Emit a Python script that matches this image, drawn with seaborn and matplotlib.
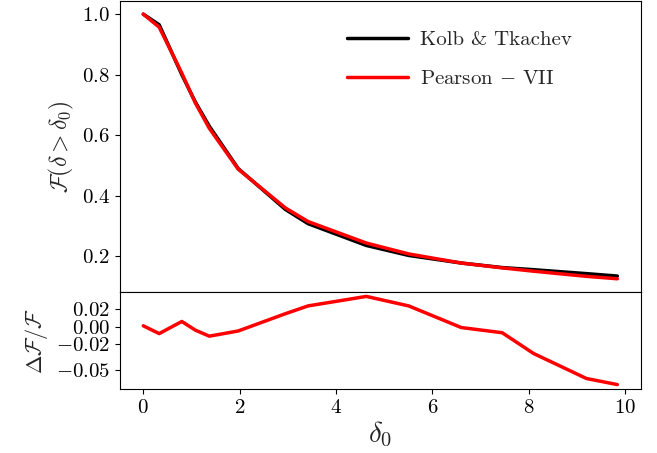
import numpy as np
import pandas as pd
import matplotlib
matplotlib.use("Agg")
import matplotlib.pyplot as plt
import seaborn as sns
from matplotlib.ticker import FuncFormatter, FixedLocator

# ---- data ----
delta0 = [0.0, 0.33, 0.80, 1.08, 1.37, 1.97, 2.95, 3.42, 4.63, 5.51, 6.60, 7.45, 8.10, 9.20, 9.84]
F_kolb = [1.0, 0.965, 0.800, 0.710, 0.630, 0.490, 0.355, 0.308, 0.236, 0.203, 0.178, 0.163, 0.156, 0.143, 0.135]
F_pearson = [1.0, 0.957, 0.805, 0.707, 0.623, 0.488, 0.360, 0.315, 0.244, 0.208, 0.178, 0.162, 0.151, 0.134, 0.126]
dF_over_F = [0.001, -0.008, 0.006, -0.004, -0.011, -0.005, 0.015, 0.024, 0.035, 0.024, -0.001, -0.007, -0.031, -0.060, -0.067]
labels = ["Kolb & Tkachev", r"Pearson $-$ VII"]
bottom_yticks = [0.02, 0.00, -0.02, -0.05]
x_ticks = [0, 2, 4, 6, 8, 10]
top_yticks = [0.2, 0.4, 0.6, 0.8, 1.0]

sns.set_style("ticks")
plt.rcParams["mathtext.fontset"] = "cm"
plt.rcParams["font.family"] = ["cmr10", "DejaVu Serif"]
plt.rcParams["axes.formatter.use_mathtext"] = True
plt.rcParams["axes.edgecolor"] = "black"
plt.rcParams["xtick.color"] = "black"
plt.rcParams["ytick.color"] = "black"
plt.rcParams["axes.linewidth"] = 0.8

df = pd.DataFrame({
    "delta0": delta0 * 2,
    "F": F_kolb + F_pearson,
    "model": [labels[0]] * len(delta0) + [labels[1]] * len(delta0),
})
df_ratio = pd.DataFrame({"delta0": delta0, "ratio": dF_over_F})

fig = plt.figure(figsize=(6.57, 4.53), dpi=100)
ax1 = fig.add_axes([0.182, 0.3554, 0.7937, 0.6426])
ax2 = fig.add_axes([0.182, 0.1413, 0.7937, 0.2141], sharex=ax1)

sns.lineplot(data=df, x="delta0", y="F", hue="model", palette=["black", "red"],
             linewidth=2.5, ax=ax1)
sns.lineplot(data=df_ratio, x="delta0", y="ratio", color="red", linewidth=2.5, ax=ax2)

def fmt1(v, pos):
    return r"$\mathrm{%.1f}$" % v

def fmt2(v, pos):
    s = "%.2f" % v
    if s == "-0.00":
        s = "0.00"
    return r"$\mathrm{%s}$" % s

def fmt0(v, pos):
    return r"$\mathrm{%d}$" % int(round(v))

ax1.yaxis.set_major_locator(FixedLocator(top_yticks))
ax1.yaxis.set_major_formatter(FuncFormatter(fmt1))
ax2.yaxis.set_major_locator(FixedLocator(bottom_yticks))
ax2.yaxis.set_major_formatter(FuncFormatter(fmt2))
ax2.xaxis.set_major_locator(FixedLocator(x_ticks))
ax2.xaxis.set_major_formatter(FuncFormatter(fmt0))
plt.setp(ax1.get_xticklabels(), visible=False)
ax1.tick_params(axis="x", length=0)

for ax in (ax1, ax2):
    ax.tick_params(labelsize=15, direction="out", length=3.5, width=0.8)
    for s in ax.spines.values():
        s.set_visible(True)
        s.set_color("black")
        s.set_linewidth(0.8)

ax1.set_xlabel("")
ax1.set_ylabel(r"$\mathcal{F}(\delta > \delta_0)$", fontsize=17)
ax2.set_ylabel(r"$\Delta\mathcal{F}/\mathcal{F}$", fontsize=16)
ax2.set_xlabel(r"$\delta_0$", fontsize=21, labelpad=2)

leg = ax1.legend(loc="upper right", frameon=False, fontsize=15,
                 handlelength=2.9, handletextpad=0.6, borderaxespad=0.9,
                 labelspacing=0.95, bbox_to_anchor=(0.92, 0.99))
for h in leg.get_lines():
    h.set_linewidth(2.5)

fig.savefig("out.png", dpi=100)
